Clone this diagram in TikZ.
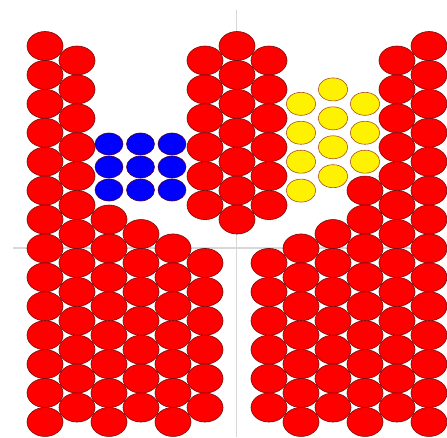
\documentclass[tikz,border=0pt]{standalone}
\usetikzlibrary{shapes.geometric}
\definecolor{redbd}{RGB}{120,10,10}
\definecolor{bluebd}{RGB}{70,0,60}
\definecolor{yellowbd}{RGB}{170,80,30}
\definecolor{axisgray}{RGB}{215,215,215}
\begin{document}
\begin{tikzpicture}[x=1pt,y=-1pt,
  ball/.style={ellipse,inner sep=0pt,line width=0.6pt},
  redball/.style={ball,fill=red,draw=redbd,minimum width=36pt,minimum height=29pt},
  blueball/.style={ball,fill=blue,draw=bluebd,minimum width=28pt,minimum height=22pt},
  yellowball/.style={ball,fill=yellow,draw=yellowbd,minimum width=29.5pt,minimum height=23pt},
  axisline/.style={draw=axisgray,line width=1.8pt}]
\useasboundingbox (0,0) rectangle (447,437);
\coordinate (vtop) at (236.5,10);
\coordinate (vbot) at (236.5,437);
\coordinate (hl) at (13,248);
\coordinate (hr) at (447,248);
\draw[axisline] (vtop) -- (vbot);
\draw[axisline] (hl) -- (hr);
% red balls: column / first row / last row
\foreach \c/\a/\b in {0/0/13,1/0/12,2/6/13,3/6/12,4/7/13,5/0/5,5/7/12,6/0/6,7/0/5,7/7/12,8/7/13,9/6/12,10/5/13,11/0/12,12/0/13}{
  \foreach \k in {\a,...,\b}{
    \node[redball] (r-\c-\k) at ({45+32*\c},{46+14.5*mod(\c,2)+28.92*\k}) {};
  }
}
% blue balls
\foreach \i in {0,1,2}{
  \foreach \j in {0,1,2}{
    \node[blueball] (b-\i-\j) at ({109+31.5*\i},{144+23*\j}) {};
  }
}
% yellow balls
\foreach \c/\a/\b in {8/2/5,9/1/4,10/2/4}{
  \foreach \k in {\a,...,\b}{
    \node[yellowball] (y-\c-\k) at ({45+32*\c},{46+14.5*mod(\c,2)+28.92*\k}) {};
  }
}
\end{tikzpicture}
\end{document}
